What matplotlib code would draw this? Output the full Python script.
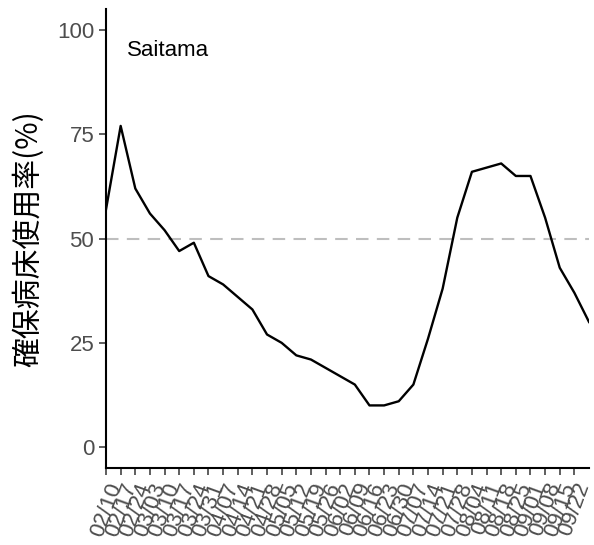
import matplotlib
matplotlib.use('Agg')
import matplotlib.pyplot as plt

# 週ごとの日付 (最後の点には目盛りなし)
dates = ['02/10', '02/17', '02/24', '03/03', '03/10', '03/17', '03/24', '03/31',
         '04/07', '04/14', '04/21', '04/28', '05/05', '05/12', '05/19', '05/26',
         '06/02', '06/09', '06/16', '06/23', '06/30', '07/07', '07/14', '07/21',
         '07/28', '08/04', '08/11', '08/18', '08/25', '09/01', '09/08', '09/15',
         '09/22', '09/29']
rate = [57, 77, 62, 56, 52, 47, 49, 41, 39, 36, 33, 27, 25, 22, 21, 19, 17,
        15, 10, 10, 11, 15, 26, 38, 55, 66, 67, 68, 65, 65, 55, 43, 37, 30]
pref = 'Saitama'

plt.rcParams['font.family'] = ['Liberation Sans', 'Noto Sans CJK JP', 'DejaVu Sans']

fig = plt.figure(figsize=(5.94, 5.45), dpi=100)
ax = fig.add_axes([0.1785, 0.1413, 0.8131, 0.842])

x = list(range(len(rate)))
ax.axhline(50, color='#BEBEBE', lw=1.5, dashes=(6, 4))
ax.plot(x, rate, color='black', lw=1.7)

ax.text(1.45, 95, pref, fontsize=16, ha='left', va='center', color='black')

ax.set_xlim(0, len(rate) - 1)
ax.set_ylim(-5, 105)
ax.set_yticks([0, 25, 50, 75, 100])
ax.set_xticks(x[:-1])
ax.set_xticklabels(dates[:-1], rotation=70, ha='right', va='top',
                   rotation_mode='anchor')
ax.tick_params(axis='both', labelsize=16, labelcolor='#4D4D4D',
               color='#333333', length=5, width=1.1)
ax.tick_params(axis='y', pad=3.5)
ax.set_ylabel('確保病床使用率(%)', fontsize=21.5, labelpad=9,
              family=['Noto Sans CJK JP', 'Liberation Sans'])

for s in ['top', 'right']:
    ax.spines[s].set_visible(False)
for s in ['left', 'bottom']:
    ax.spines[s].set_linewidth(1.5)

fig.savefig('out.png', dpi=100)
